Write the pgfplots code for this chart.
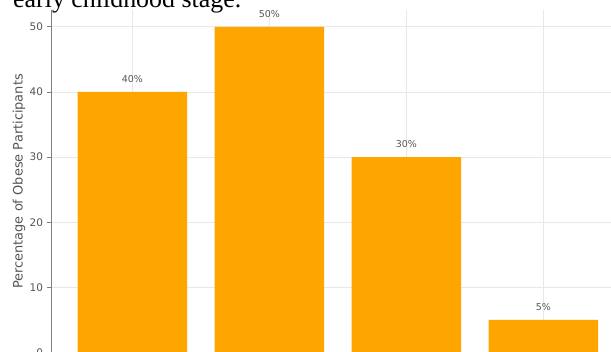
\documentclass[border=0pt]{standalone}
\usepackage{fontspec}
\setmainfont{DejaVu Sans}
\newfontfamily\docserif{Liberation Serif}
\usepackage{pgfplots}
\pgfplotsset{compat=1.18}
\definecolor{barorange}{HTML}{FFA500}
\definecolor{gridgray}{HTML}{E8E8E8}
\definecolor{txtgray}{HTML}{555555}
\definecolor{spinegray}{HTML}{808080}
\begin{document}
\begin{tikzpicture}
\path[use as bounding box] (0,0) rectangle (611bp,352bp);
\fill[white] (0,0) rectangle (611bp,352bp);
\node[anchor=base west, inner sep=0pt, font=\docserif\fontsize{26}{30}\selectfont] at (13bp,344.5bp) {early childhood stage.};
\begin{axis}[
  at={(51.5bp,-0.5bp)}, anchor=south west,
  scale only axis, width=572.7bp, height=342bp,
  xmin=-0.59, xmax=3.59, ymin=0, ymax=52.5,
  ybar, bar width=0.8, bar shift=0pt,
  axis x line*=bottom, axis y line*=left,
  axis line style={spinegray, line width=0.8bp},
  xtick={0,1,2,3}, xticklabels={},
  ytick={0,10,20,30,40,50},
  grid=major, major grid style={gridgray, line width=0.8bp},
  tick align=outside, major tick length=5bp,
  tick style={spinegray, line width=0.8bp},
  tick label style={font=\fontsize{10.5}{12}\selectfont, text=txtgray},
  /pgf/number format/assume math mode=true,
  ylabel={Percentage of Obese Participants},
  ylabel style={at={(axis description cs:0,0.5)}, anchor=center, yshift=32.5bp, font=\fontsize{13}{15}\selectfont, text=txtgray},
  nodes near coords={\pgfmathprintnumber{\pgfplotspointmeta}\%},
  nodes near coords style={font=\fontsize{9.5}{11}\selectfont, text=txtgray, anchor=south, yshift=5.5bp},
]
\addplot[fill=barorange, draw=none] coordinates {(0,40) (1,50) (2,30) (3,5)};
\end{axis}
\end{tikzpicture}
\end{document}
